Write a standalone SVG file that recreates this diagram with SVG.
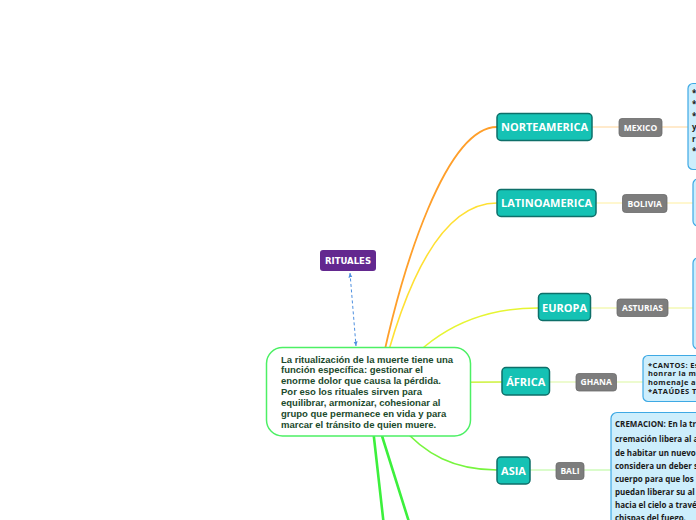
<svg xmlns="http://www.w3.org/2000/svg" width="696" height="520" viewBox="0 0 696 520">
<defs>
<style>
.main{fill:#15c2b4;stroke:#0e6f69;stroke-width:1.5}
.mainT{font-family:"Open Sans","Liberation Sans",sans-serif;font-weight:bold;font-size:11px;fill:#ffffff;text-anchor:middle}
.sub{fill:#7d7d7d;stroke:#6a6a6a;stroke-width:0.8}
.subT{font-family:"Open Sans","Liberation Sans",sans-serif;font-weight:bold;font-size:8.5px;fill:#ffffff;text-anchor:middle}
.box{fill:#cdeefc;stroke:#3ea9e4;stroke-width:1.2}
.boxT{font-family:"Open Sans","Liberation Sans",sans-serif;font-weight:bold;font-size:8px;fill:#1a1a1a}
.smallT{font-family:"Open Sans","Liberation Sans",sans-serif;font-weight:bold;font-size:7.5px;letter-spacing:0.4px;fill:#1a1a1a}
.c{fill:none;stroke-linecap:round}
.centerT{font-family:"Liberation Sans",Arial,sans-serif;font-weight:bold;font-size:9.5px;fill:#1b4a2c}
</style>
<marker id="arr" viewBox="0 0 10 10" refX="9" refY="5" markerWidth="5" markerHeight="5" orient="auto-start-reverse">
<path d="M0,1 L9,5 L0,9 z" fill="#4d8fe0"/>
</marker>
</defs>
<rect width="696" height="520" fill="#ffffff"/>

<g id="connectors">
<path class="c" d="M376 392 C402 258, 448 127, 497 127" stroke="#ff9f2a" stroke-width="1.8"/>
<path class="c" d="M378 392 C395 320, 430 203, 497 203" stroke="#ffe033" stroke-width="1.6"/>
<path class="c" d="M385 392 C420 338, 470 308, 538 308" stroke="#e6f532" stroke-width="1.5"/>
<path class="c" d="M420 383 C460 382, 480 382, 502 382" stroke="#cdf23c" stroke-width="1.5"/>
<path class="c" d="M400 425 C425 455, 455 470, 497 470" stroke="#77f53e" stroke-width="1.5"/>
<path class="c" d="M372 420 L383.5 522" stroke="#3cf03c" stroke-width="2.6"/>
<path class="c" d="M377 420 L409 522" stroke="#3cf03c" stroke-width="2.6"/>
<path class="c" d="M591 127 L619 127" stroke="#ffd59a" stroke-width="1.2"/>
<path class="c" d="M662 127 L688 127" stroke="#ffd59a" stroke-width="1.2"/>
<path class="c" d="M596 203 L622 203" stroke="#fff0a0" stroke-width="1.2"/>
<path class="c" d="M667 203 L693 203" stroke="#fff0a0" stroke-width="1.2"/>
<path class="c" d="M591 308 L617 308" stroke="#eef590" stroke-width="1.2"/>
<path class="c" d="M668 308 L693 308" stroke="#eef590" stroke-width="1.2"/>
<path class="c" d="M550 382 L576 382" stroke="#dcf7a0" stroke-width="1.2"/>
<path class="c" d="M617 382 L643 382" stroke="#dcf7a0" stroke-width="1.2"/>
<path class="c" d="M530 470 L556 470" stroke="#b6fa98" stroke-width="1.2"/>
<path class="c" d="M584 470 L611 470" stroke="#b6fa98" stroke-width="1.2"/>
<path d="M350 273 L356 346" fill="none" stroke="#4d8fe0" stroke-width="1" stroke-dasharray="3,2.5" marker-start="url(#arr)" marker-end="url(#arr)"/>
</g>

<g id="rituales">
<rect x="320" y="250" width="56" height="21" rx="3" fill="#63288f"/>
<text x="348" y="264" font-family="'DejaVu Sans','Liberation Sans',sans-serif" font-weight="bold" font-size="8.5" fill="#ffffff" text-anchor="middle">RITUALES</text>
</g>

<g id="central">
<rect x="266.5" y="347.5" width="204" height="88.5" rx="16" fill="#ffffff" stroke="#4cf064" stroke-width="1.5"/>
<text class="centerT" x="281" y="362.5">La ritualización de la muerte tiene una</text>
<text class="centerT" x="281" y="373.4">función específica: gestionar el</text>
<text class="centerT" x="281" y="384.3">enorme dolor que causa la pérdida.</text>
<text class="centerT" x="281" y="395.2">Por eso los rituales sirven para</text>
<text class="centerT" x="281" y="406.1">equilibrar, armonizar, cohesionar al</text>
<text class="centerT" x="281" y="417">grupo que permanece en vida y para</text>
<text class="centerT" x="281" y="427.9">marcar el tránsito de quien muere.</text>
</g>

<g id="norteamerica">
<rect class="main" x="497" y="113.5" width="95" height="27" rx="4"/>
<text class="mainT" x="544.5" y="131">NORTEAMERICA</text>
</g>
<g id="mexico">
<rect class="sub" x="619" y="118.5" width="43" height="18" rx="3"/>
<text class="subT" x="640.5" y="130.5">MEXICO</text>
</g>
<g id="mexico-detalle">
<rect class="box" x="688" y="83.5" width="30" height="86" rx="5"/>
<text class="boxT" x="692" y="96">*</text>
<text class="boxT" x="692" y="107">*</text>
<text class="boxT" x="692" y="119">*</text>
<text class="boxT" x="692" y="130">y</text>
<text class="boxT" x="692" y="142">r</text>
<text class="boxT" x="692" y="154">*</text>
</g>

<g id="latinoamerica">
<rect class="main" x="497" y="189.5" width="99" height="27" rx="4"/>
<text class="mainT" x="546.5" y="207">LATINOAMERICA</text>
</g>
<g id="bolivia">
<rect class="sub" x="622.5" y="194.5" width="44.5" height="18" rx="3"/>
<text class="subT" x="644.7" y="206.5">BOLIVIA</text>
</g>
<g id="bolivia-detalle">
<rect class="box" x="693" y="179" width="30" height="47" rx="5"/>
</g>

<g id="europa">
<rect class="main" x="538.5" y="293.5" width="52" height="27" rx="4"/>
<text class="mainT" x="564.5" y="311.5">EUROPA</text>
</g>
<g id="asturias">
<rect class="sub" x="617" y="299" width="51" height="17.5" rx="3"/>
<text class="subT" x="642.5" y="310.8">ASTURIAS</text>
</g>
<g id="asturias-detalle">
<rect class="box" x="693" y="258" width="30" height="91" rx="5"/>
</g>

<g id="africa">
<rect class="main" x="502" y="367.5" width="47.5" height="27.5" rx="4"/>
<text class="mainT" x="525.7" y="385.5" font-size="11.5">ÁFRICA</text>
</g>
<g id="ghana">
<rect class="sub" x="576" y="373.5" width="40.5" height="17.5" rx="3"/>
<text class="subT" x="596.2" y="385.2">GHANA</text>
</g>
<g id="ghana-detalle">
<rect class="box" x="643" y="355.5" width="70" height="46" rx="5"/>
<text class="smallT" x="648" y="367.7">*CANTOS: Es</text>
<text class="smallT" x="648" y="376.4">honrar la m</text>
<text class="smallT" x="648" y="385">homenaje as</text>
<text class="smallT" x="648" y="393.5">*ATAÚDES T</text>
</g>

<g id="asia">
<rect class="main" x="497" y="457" width="33" height="27" rx="4"/>
<text class="mainT" x="513.5" y="474.5" font-size="11.5">ASIA</text>
</g>
<g id="bali">
<rect class="sub" x="556" y="462.5" width="28" height="17" rx="3"/>
<text class="subT" x="570" y="474">BALI</text>
</g>
<g id="bali-detalle">
<rect class="box" x="611" y="412.5" width="110" height="120" rx="6"/>
<text class="boxT" x="615" y="427">CREMACION: En la tr</text>
<text class="boxT" x="615" y="442">cremación libera al a</text>
<text class="boxT" x="615" y="456">de habitar un nuevo</text>
<text class="boxT" x="615" y="469">considera un deber s</text>
<text class="boxT" x="615" y="482">cuerpo para que los</text>
<text class="boxT" x="615" y="495">puedan  liberar su al</text>
<text class="boxT" x="615" y="508">hacia el cielo a travé</text>
<text class="boxT" x="615" y="521">chispas del fuego.</text>
</g>
</svg>
